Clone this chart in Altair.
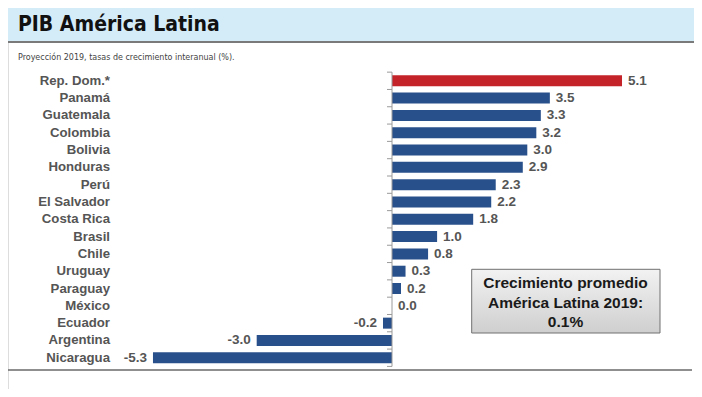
import altair as alt
import pandas as pd

countries = ["Rep. Dom.*", "Panamá", "Guatemala", "Colombia", "Bolivia", "Honduras",
             "Perú", "El Salvador", "Costa Rica", "Brasil", "Chile", "Uruguay",
             "Paraguay", "México", "Ecuador", "Argentina", "Nicaragua"]
values = [5.1, 3.5, 3.3, 3.2, 3.0, 2.9, 2.3, 2.2, 1.8, 1.0, 0.8, 0.3, 0.2, 0.0, -0.2, -3.0, -5.3]
highlight = ["Rep. Dom.*"]

title_text = "PIB América Latina"
subtitle_text = "Proyección 2019, tasas de crecimiento interanual (%)."
box_lines = ["Crecimiento promedio", "América Latina 2019:", "0.1%"]

W, H = 686, 381
FONT = "Liberation Sans, Arial, sans-serif"
NARROW = "DejaVu Sans Condensed, Liberation Sans Narrow, sans-serif"

df = pd.DataFrame({
    "country": countries,
    "v": values,
    "i": list(range(len(countries))),
})
df["label"] = [f"{v:.1f}" for v in values]
df["hl"] = ["red" if c in highlight else "blue" for c in countries]

bounds = pd.DataFrame({"b": [k - 0.5 for k in range(len(countries) + 1)]})

xs = alt.Scale(domain=[-384 / 45.1, (W - 384) / 45.1], nice=False, zero=False, padding=0)
ys = alt.Scale(domain=[-72.8 / 17.31, (H - 72.8) / 17.31], nice=False, zero=False,
               reverse=True, padding=0)

base = alt.Chart(df)

bars = base.mark_bar(orient="horizontal", size=11).encode(
    x=alt.X("v:Q", scale=xs, axis=None),
    x2=alt.datum(0),
    y=alt.Y("i:Q", scale=ys, axis=None),
    color=alt.Color("hl:N", scale=alt.Scale(domain=["red", "blue"], range=["#c4232a", "#28508a"]), legend=None),
)

axis_line = alt.Chart(bounds).transform_calculate(z="0").mark_rule(color="#9a9a9a", strokeWidth=1).encode(
    x=alt.X("z:Q", scale=xs, axis=None),
    y=alt.Y("min(b):Q", scale=ys, axis=None),
    y2=alt.Y2("max(b):Q"),
)

ticks = alt.Chart(bounds).mark_rule(color="#9a9a9a", strokeWidth=1).encode(
    x=alt.value(379),
    x2=alt.value(384),
    y=alt.Y("b:Q", scale=ys, axis=None),
)

cat_labels = base.mark_text(align="right", baseline="middle", font=FONT, fontWeight="bold",
                            fontSize=13.2, color="#555555").encode(
    x=alt.value(102),
    y=alt.Y("i:Q", scale=ys, axis=None),
    text="country:N",
)

pos_labels = base.transform_filter("datum.v >= 0").mark_text(
    align="left", baseline="middle", dx=6, font=FONT, fontWeight="bold", fontSize=13.5, color="#555555"
).encode(
    x=alt.X("v:Q", scale=xs, axis=None),
    y=alt.Y("i:Q", scale=ys, axis=None),
    text="label:N",
)

neg_labels = base.transform_filter("datum.v < 0").mark_text(
    align="right", baseline="middle", dx=-6, font=FONT, fontWeight="bold", fontSize=13.5, color="#555555"
).encode(
    x=alt.X("v:Q", scale=xs, axis=None),
    y=alt.Y("i:Q", scale=ys, axis=None),
    text="label:N",
)

one = alt.Chart(pd.DataFrame({"k": [0]}))

header = one.mark_rect(color="#d4ebf8").encode(
    x=alt.value(0), x2=alt.value(W), y=alt.value(0), y2=alt.value(33)
)
header_line = one.mark_rule(color="#7a7a7a", strokeWidth=2).encode(
    x=alt.value(0), x2=alt.value(W), y=alt.value(34)
)
bottom_line = one.mark_rule(color="#6a6a6a", strokeWidth=1.5).encode(
    x=alt.value(0), x2=alt.value(W - 2), y=alt.value(362)
)

title = one.mark_text(align="left", baseline="alphabetic", font=NARROW, fontWeight="bold",
                      fontSize=21, color="#111111").encode(
    x=alt.value(10), y=alt.value(22.5), text=alt.value(title_text)
)
subtitle = one.mark_text(align="left", baseline="alphabetic", font=NARROW,
                         fontSize=8.9, color="#444444").encode(
    x=alt.value(10), y=alt.value(51.5), text=alt.value(subtitle_text)
)

box = one.mark_rect(
    stroke="#707070", strokeWidth=1,
    fill=alt.Gradient(gradient="linear", x1=0, y1=0, x2=0, y2=1,
                      stops=[alt.GradientStop(color="#f2f2f2", offset=0),
                             alt.GradientStop(color="#cfcfcf", offset=1)]),
).encode(x=alt.value(463.7), x2=alt.value(652), y=alt.value(261.3), y2=alt.value(325))

box_text = one.mark_text(align="center", baseline="middle", font=FONT, fontWeight="bold",
                         fontSize=15.5, lineHeight=19.5, color="#1a1a1a").encode(
    x=alt.value(557.5), y=alt.value(275), text=alt.value(box_lines)
)

chart = alt.layer(
    header, header_line, bottom_line, title, subtitle,
    bars, axis_line, ticks, cat_labels, pos_labels, neg_labels, box, box_text
).properties(
    width=W, height=H, padding=0, autosize=alt.AutoSizeParams(type="none")
).configure_view(stroke=None).configure(background="white")

chart.save("out.html", embed_options={"renderer": "svg", "actions": False})
